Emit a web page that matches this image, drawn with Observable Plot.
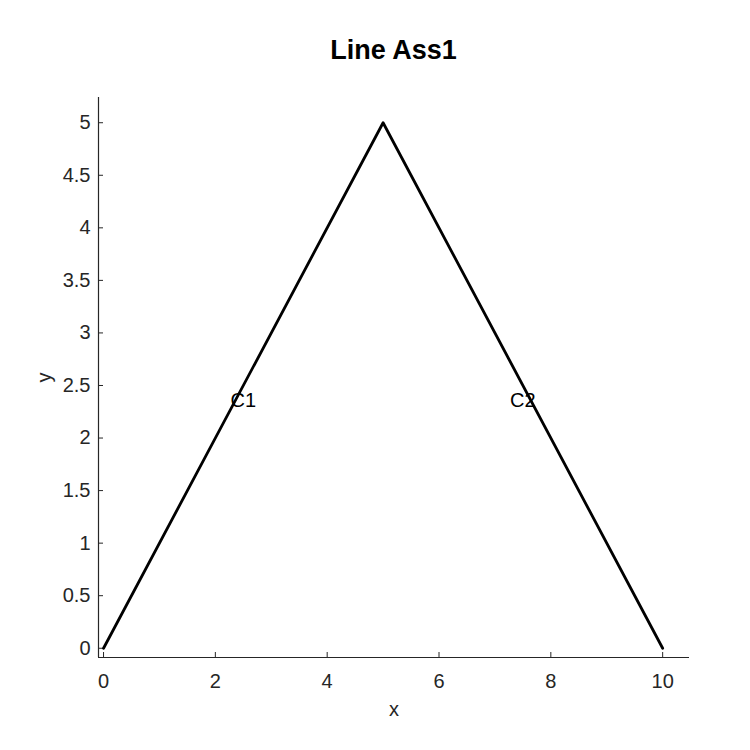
<!DOCTYPE html>
<html>
<head>
<meta charset="utf-8">
<script src="https://cdn.jsdelivr.net/npm/d3@7"></script>
<script src="https://cdn.jsdelivr.net/npm/@observablehq/plot@0.6"></script>
<style>
  body { margin: 0; background: #fff; font-family: "Liberation Sans", Arial, sans-serif; }
  #title { width: 750px; height: 70px; position: relative; }
  #title span { position: absolute; left: 0; width: 787px; top: 34px; text-align: center; font-weight: bold; font-size: 27px; color: #000; line-height: 32px; }
</style>
</head>
<body>
<div id="title"><span>Line Ass1</span></div>
<div id="chart"></div>
<script>
const xs = [0, 5, 10];
const ys = [0, 5, 0];
const labelNames = ["C1", "C2"];
const labelX = [2.5, 7.5];
const labelY = [2.36, 2.36];
const xTicks = [0, 2, 4, 6, 8, 10];
const yTicks = [0, 0.5, 1, 1.5, 2, 2.5, 3, 3.5, 4, 4.5, 5];
const xDomain = [-0.09, 10.48];
const yDomain = [-0.088, 5.24];

const pts = xs.map((x, i) => ({x, y: ys[i]}));
const labels = labelNames.map((t, i) => ({t, x: labelX[i], y: labelY[i]}));

const H = 680, mT = 27, mB = 93;
const plotH = H - mT - mB;
const axisColor = "#262626";

const chart = Plot.plot({
  width: 750,
  height: H,
  marginTop: mT,
  marginBottom: mB,
  marginLeft: 98,
  marginRight: 61,
  style: { fontFamily: "Liberation Sans, Arial, sans-serif", fontSize: "20px", color: axisColor, background: "#fff" },
  x: { domain: xDomain },
  y: { domain: yDomain },
  marks: [
    Plot.axisX({ticks: xTicks, tickSize: 0, tickPadding: 16, fill: axisColor, tickFormat: d => String(d),
      label: "x", labelAnchor: "center", labelOffset: 58, labelArrow: "none", fontSize: 20}),
    Plot.axisY({ticks: yTicks, tickSize: 0, tickPadding: 8, fill: axisColor, tickFormat: d => String(d),
      label: "y", labelAnchor: "center", labelOffset: 62, labelArrow: "none", fontSize: 20}),
    Plot.ruleX([xDomain[0]], {x: d => d, stroke: axisColor, strokeWidth: 1.2}),
    Plot.ruleY([yDomain[0]], {y: d => d, stroke: axisColor, strokeWidth: 1.2}),
    Plot.tickX(xTicks, {x: d => d, stroke: axisColor, insetTop: plotH - 5}),
    Plot.tickY(yTicks, {y: d => d, stroke: axisColor, insetRight: 750 - 98 - 61 - 5}),
    Plot.line(pts, {x: "x", y: "y", stroke: "#000", strokeWidth: 2.8}),
    Plot.text(labels, {x: "x", y: "y", text: "t", fontSize: 20, fill: "#000"})
  ]
});
document.getElementById("chart").appendChild(chart);
</script>
</body>
</html>
